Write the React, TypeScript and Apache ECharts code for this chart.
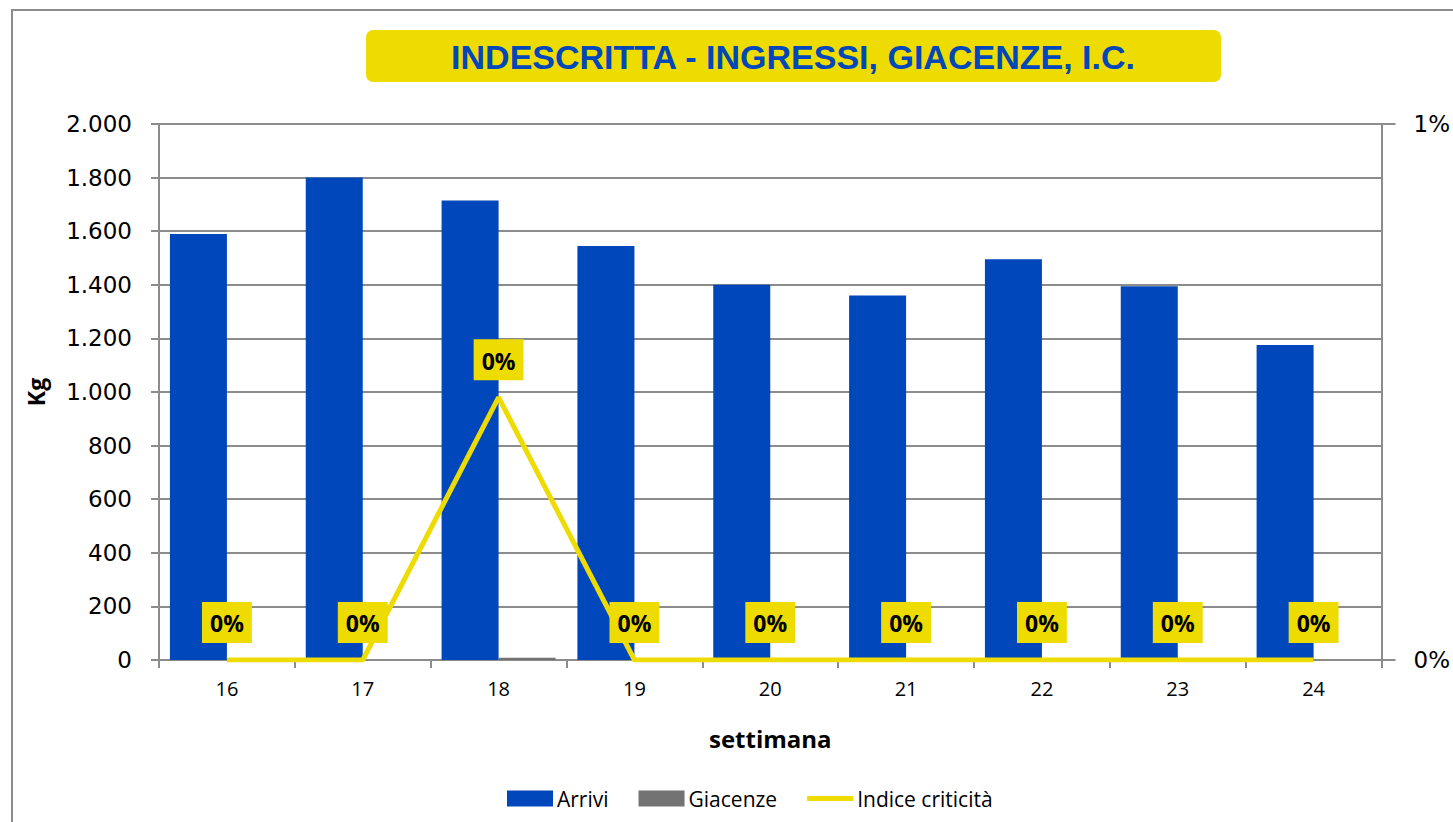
import React, { useEffect, useRef } from "react";
import * as echarts from "echarts";

const weeks = ["16", "17", "18", "19", "20", "21", "22", "23", "24"];
const arrivi = [1590, 1800, 1715, 1545, 1400, 1360, 1495, 1395, 1175];
const giacenze = [0, 0, 8, 0, 0, 0, 0, 0, 0];
const indice = [0, 0, 0.0049, 0, 0, 0, 0, 0, 0];
const leftMax = 2000;
const leftInterval = 200;
const rightMax = 0.01;

const BLUE = "#0047BB";
const GRAY = "#737373";
const YELLOW = "#EEDC00";
const GRID = "#8c8c8c";

const fmtThousands = (v: number) =>
  String(v).replace(/\B(?=(\d{3})+(?!\d))/g, ".");
const pct = (v: number) => Math.round(v * 100) + "%";

export default function App() {
  const ref = useRef<HTMLDivElement>(null);
  useEffect(() => {
    if (!ref.current) return;
    const chart = echarts.init(ref.current, null, { renderer: "svg" });
    chart.setOption({
      animation: false,
      backgroundColor: "#ffffff",
      grid: { left: 159, right: 67, top: 124, bottom: 162 },
      graphic: [
        {
          type: "rect",
          shape: { x: 12, y: 10, width: 1600, height: 1000 },
          style: { fill: "none", stroke: GRID, lineWidth: 2 },
          silent: true,
        },
        {
          type: "rect",
          shape: { x: 366, y: 30, width: 855, height: 52, r: 7 },
          style: { fill: YELLOW },
        },
        {
          type: "text",
          x: 793,
          y: 57,
          style: {
            text: "INDESCRITTA - INGRESSI, GIACENZE, I.C.",
            fill: BLUE,
            font: "bold 34px 'Liberation Sans', Arial",
            align: "center",
            verticalAlign: "middle",
          },
        },
      ],
      legend: {
        bottom: 8,
        left: 502,
        itemWidth: 46,
        itemHeight: 16,
        itemGap: 30,
        textStyle: {
          fontFamily: "'Open Sans'",
          fontSize: 21,
          color: "#000",
          padding: [0, 0, 0, -1],
        },
        data: [
          { name: "Arrivi", icon: "rect" },
          { name: "Giacenze", icon: "rect" },
          { name: "Indice criticità", icon: "path://M0,0L92,0L92,10L0,10Z" },
        ],
      },
      xAxis: {
        type: "category",
        data: weeks,
        name: "settimana",
        nameLocation: "middle",
        nameGap: 66,
        nameTextStyle: {
          fontFamily: "'Open Sans'",
          fontWeight: "bold",
          fontSize: 24,
          color: "#000",
        },
        axisLine: { lineStyle: { color: GRID, width: 2 } },
        axisTick: { show: true, length: 8, lineStyle: { color: GRID, width: 2 } },
        axisLabel: {
          fontFamily: "'Open Sans'",
          fontSize: 20,
          color: "#000",
          margin: 18,
        },
      },
      yAxis: [
        {
          type: "value",
          min: 0,
          max: leftMax,
          interval: leftInterval,
          name: "Kg",
          nameLocation: "middle",
          nameGap: 112,
          nameRotate: 90,
          nameTextStyle: {
            fontFamily: "'Open Sans'",
            fontWeight: "bold",
            fontSize: 23,
            color: "#000",
          },
          axisLine: { show: true, lineStyle: { color: GRID, width: 2 } },
          axisTick: { show: true, length: 8, lineStyle: { color: GRID, width: 2 } },
          splitLine: { show: true, lineStyle: { color: GRID, width: 2 } },
          axisLabel: {
            fontFamily: "'DejaVu Sans'",
            fontSize: 23,
            color: "#000",
            margin: 27,
            formatter: (v: number) => fmtThousands(v),
          },
        },
        {
          type: "value",
          min: 0,
          max: rightMax,
          interval: rightMax,
          position: "right",
          axisLine: { show: true, lineStyle: { color: GRID, width: 2 } },
          axisTick: { show: true, length: 14, lineStyle: { color: GRID, width: 2 } },
          splitLine: { show: false },
          axisLabel: {
            fontFamily: "'DejaVu Sans'",
            fontSize: 23,
            color: "#000",
            margin: 32,
            formatter: (v: number) => pct(v),
          },
        },
      ],
      series: [
        {
          name: "Arrivi",
          type: "bar",
          data: arrivi,
          barWidth: 57,
          barGap: "0%",
          itemStyle: { color: BLUE },
        },
        {
          name: "Giacenze",
          type: "bar",
          data: giacenze,
          barWidth: 57,
          barGap: "0%",
          itemStyle: { color: GRAY },
        },
        {
          name: "Indice criticità",
          type: "line",
          yAxisIndex: 1,
          data: indice,
          symbol: "circle",
          symbolSize: 0.1,
          showSymbol: true,
          lineStyle: { color: YELLOW, width: 5 },
          itemStyle: { color: YELLOW },
          z: 5,
          label: {
            show: true,
            position: "top",
            distance: 17,
            formatter: (p: any) => pct(p.value),
            backgroundColor: YELLOW,
            padding: [10, 8, 8, 8],
            fontFamily: "'Open Sans'",
            fontWeight: "bold",
            fontSize: 23,
            color: "#000",
          },
        },
      ],
    });
    return () => chart.dispose();
  }, []);
  return (
    <div
      ref={ref}
      style={{ position: "fixed", left: 0, top: 0, width: 1453, height: 822 }}
    />
  );
}
